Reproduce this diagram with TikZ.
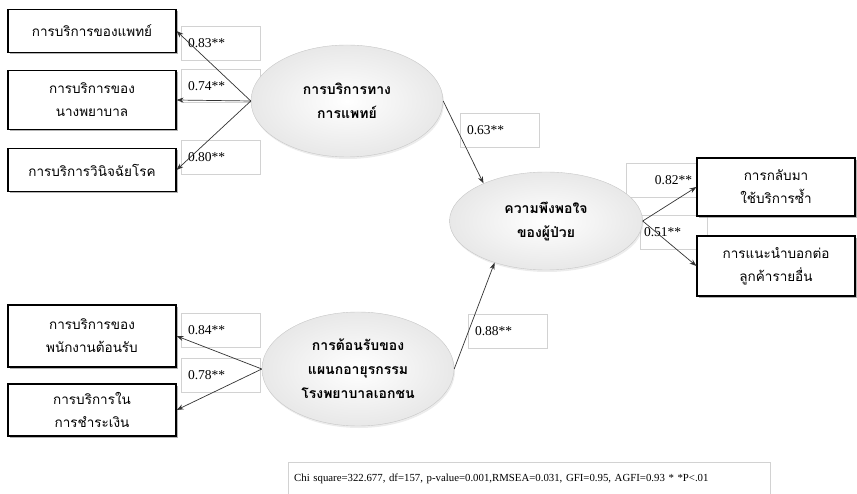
\documentclass[tikz,border=0pt]{standalone}
\usepackage{fontspec}
\setmainfont{Liberation Serif}
\newfontfamily\thaifont[Script=Thai]{Loma}
\usetikzlibrary{shapes.geometric,shadows,arrows.meta}
\tikzset{
    > = {Stealth[length=7pt, width=5pt]},
    obs/.style = {draw, line width=1.1pt, fill=white, font=\thaifont\fontsize{13.5}{23}\selectfont,
        align=center, minimum width=168pt, drop shadow={opacity=0.6, shadow xshift=2pt, shadow yshift=-2pt}},
    lat/.style = {ellipse, draw=gray!45, inner color=white, outer color=gray!18,
        font=\thaifont\bfseries\fontsize{14}{24}\selectfont, align=center,
        drop shadow={opacity=0.15, shadow xshift=1pt, shadow yshift=-2pt}},
    coef/.style = {draw=gray!35, fill=white, minimum width=79pt, minimum height=34pt,
        font=\fontsize{13.5}{14}\selectfont, text width=66pt, align=left},
    path/.style = {->, draw=black!80, line width=0.7pt}
}

\begin{document}
\begin{tikzpicture}[x=1pt, y=-1pt]
    \useasboundingbox (0,0) rectangle (857,494);

    % coefficient boxes
    \node[coef] (l83) at (221, 43) {0.83**};
    \node[coef, minimum height=33pt] (l74) at (221, 86) {0.74**};
    \node[coef] (l80) at (221, 157) {0.80**};
    \node[coef] (l63) at (500, 130) {0.63**};
    \node[coef, text width=52pt, align=right] (l82) at (666, 180) {0.82**};
    \node[coef, minimum width=64pt, text width=60pt] (l51) at (674, 232) {0.51**};
    \node[coef] (l84) at (221, 330) {0.84**};
    \node[coef] (l78) at (221, 375) {0.78**};
    \node[coef] (l88) at (508, 331) {0.88**};

    % observed variables
    \node[obs, minimum height=43pt] (a1) at (92, 31) {การบริการของแพทย์};
    \node[obs, minimum height=59pt] (a2) at (92, 100) {การบริการของ\\นางพยาบาล};
    \node[obs, minimum height=43pt] (a3) at (92, 170) {การบริการวินิจฉัยโรค};
    \node[obs, minimum height=62pt] (c1) at (92, 336) {การบริการของ\\พนักงานต้อนรับ};
    \node[obs, minimum height=52pt] (c2) at (92, 410) {การบริการใน\\การชำระเงิน};
    \node[obs, minimum width=158pt, minimum height=58pt] (b1) at (776, 187) {การกลับมา\\ใช้บริการซ้ำ};
    \node[obs, minimum width=158pt, minimum height=60pt] (b2) at (776, 266) {การแนะนำบอกต่อ\\ลูกค้ารายอื่น};

    % latent variables
    \node[lat, minimum width=192pt, minimum height=112pt] (e1) at (347, 101) {การบริการทาง\\การแพทย์};
    \node[lat, minimum width=193pt, minimum height=98pt] (e2) at (546, 221) {ความพึงพอใจ\\ของผู้ป่วย};
    \node[lat, minimum width=192pt, minimum height=114pt] (e3) at (358, 369) {การต้อนรับของ\\แผนกอายุรกรรม\\โรงพยาบาลเอกชน};

    \draw[path] (e1.west) -- (a1.east);
    \draw[path] (e1.west) -- (a2.east);
    \draw[path] (e1.west) -- (a3.east);
    \draw[path] (e3.west) -- (c1.east);
    \draw[path] (e3.west) -- (c2.east);
    \draw[path] (e1.east) -- (e2.149);
    \draw[path] (e3.east) -- (e2.-141);
    \draw[path] (e2.east) -- (b1.west);
    \draw[path] (e2.east) -- (b2.west);

    % fit indices
    \node[draw=gray!35, minimum width=482pt, minimum height=34pt, anchor=north west,
        font=\fontsize{10.8}{12}\selectfont, text width=470pt, align=left] (fit) at (288, 462)
        {Chi square=322.677, df=157, p-value=0.001,RMSEA=0.031, GFI=0.95, AGFI=0.93 * *P<.01};
\end{tikzpicture}
\end{document}
